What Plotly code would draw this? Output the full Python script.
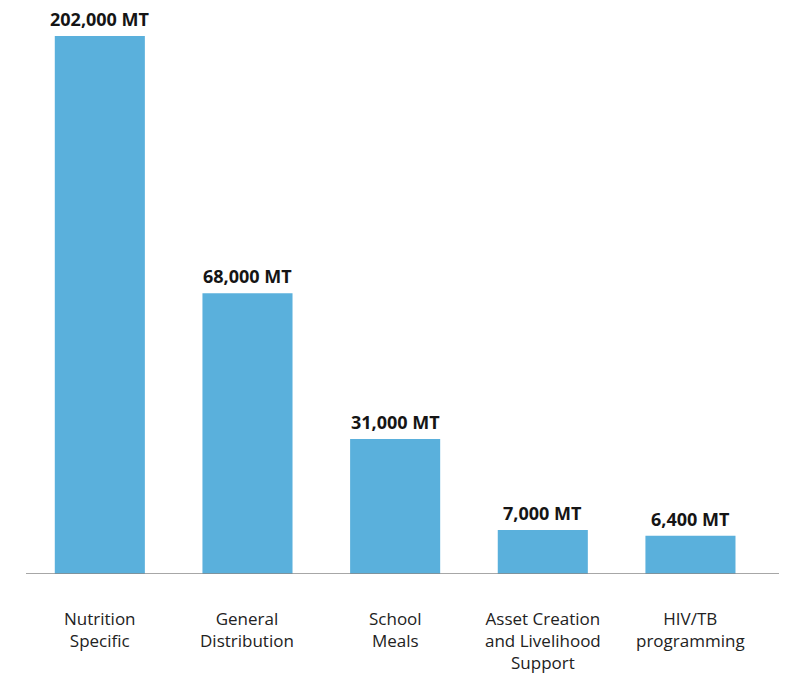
import plotly.graph_objects as go

categories = ["Nutrition<br>Specific", "General<br>Distribution", "School<br>Meals",
              "Asset Creation<br>and Livelihood<br>Support", "HIV/TB<br>programming"]
value_labels = ["202,000 MT", "68,000 MT", "31,000 MT", "7,000 MT", "6,400 MT"]
# bar heights as drawn in the infographic (not to linear scale), relative units (first bar = 100)
bar_heights = [100, 52.2, 25.1, 8.2, 7.1]

fig = go.Figure()
fig.add_trace(go.Bar(
    x=list(range(len(categories))), y=bar_heights,
    marker=dict(color="#5AB0DC", line=dict(width=0)),
    width=0.61,
    cliponaxis=False,
    hoverinfo="skip",
))

for i, (h, lab) in enumerate(zip(bar_heights, value_labels)):
    fig.add_annotation(x=i, y=h, xref="x", yref="y", text="<b>" + lab + "</b>",
                       showarrow=False, yanchor="middle", yshift=17,
                       font=dict(family="Open Sans", size=18, color="#151515"))

for i, c in enumerate(categories):
    fig.add_annotation(x=i, y=0, xref="x", yref="y", text=c, showarrow=False,
                       yanchor="top", yshift=-32, align="center", borderpad=0,
                       font=dict(family="Open Sans", size=17, color="#222222"))

fig.update_layout(
    width=779, height=668,
    margin=dict(l=18, r=5, t=12, b=102),
    plot_bgcolor="white", paper_bgcolor="white",
    showlegend=False,
    xaxis=dict(range=[-0.5, 4.62], showticklabels=False, showgrid=False, zeroline=False,
               showline=False, ticks=""),
    yaxis=dict(range=[0, 102.97], visible=False, showgrid=False, zeroline=False),
    shapes=[dict(type="line", xref="paper", yref="y", x0=0, x1=1, y0=0, y1=0,
                 line=dict(color="#8a8a8a", width=1.5))],
)

fig.write_html("out.html")
